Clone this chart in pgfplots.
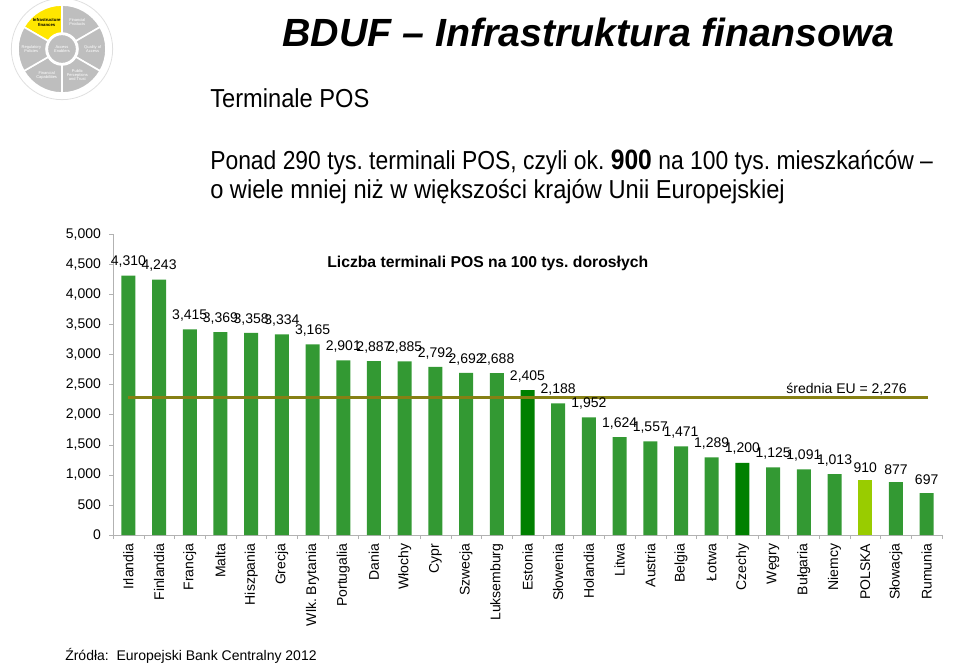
\documentclass[border=0pt]{standalone}
\usepackage{fontspec}
\setmainfont{Liberation Sans}
\newfontfamily\narrowfont[FakeStretch=0.91]{Liberation Sans}
\newfontfamily\narrowfontB[FakeStretch=0.88]{Liberation Sans}
\usepackage{pgfplots}
\pgfplotsset{compat=1.18}
\definecolor{barG}{RGB}{51,153,51}
\definecolor{barD}{RGB}{0,128,0}
\definecolor{barL}{RGB}{153,204,0}
\definecolor{avgC}{RGB}{134,128,20}
\definecolor{yel}{RGB}{255,230,0}
\definecolor{logoG}{RGB}{190,190,190}
\newcommand{\fs}[1]{\fontsize{#1}{#1}\selectfont}
\pgfplotsset{
  mybar/.style={ybar, bar width=10.5pt, bar shift=0pt, draw=none,
    nodes near coords,
    every node near coord/.append style={font=\fs{10.5pt}, text=black, yshift=2.5pt}},
}
\frenchspacing
\begin{document}
\frenchspacing
\begin{tikzpicture}[x=0.75pt, y=-0.75pt]
\path[use as bounding box] (0,0) rectangle (960,664);
% logo
\begin{scope}[shift={(62,49)}, x=1pt, y=1pt]
  \draw[gray!25, line width=0.6pt] (0,0) circle[radius=38pt];
  \foreach \a/\c in {90/yel,30/logoG,-30/logoG,-90/logoG,-150/logoG,150/logoG}{
    \pgfmathsetmacro{\b}{\a+60}
    \filldraw[fill=\c, draw=white, line width=1.2pt]
      (\a:12pt) -- (\a:33pt) arc[start angle=\a, end angle=\b, radius=33pt]
      -- (\b:12pt) arc[start angle=\b, end angle=\a, radius=12pt] -- cycle;
  }
  \filldraw[fill=logoG, draw=white, line width=1.2pt] (0,0) circle[radius=11pt];
  \node[font=\bfseries\fs{3.2pt}, align=center] at (120:23pt) {Infrastructure\\finances};
  \node[font=\fs{3pt}, text=white, align=center] at (60:23pt) {Financial\\Products};
  \node[font=\fs{3pt}, text=white, align=center] at (0:23pt) {Quality of\\Access};
  \node[font=\fs{3pt}, text=white, align=center] at (-60:23pt) {Public\\Perceptions\\and Trust};
  \node[font=\fs{3pt}, text=white, align=center] at (-120:23pt) {Financial\\Capabilities};
  \node[font=\fs{3pt}, text=white, align=center] at (180:23pt) {Regulatory\\Policies};
  \node[font=\fs{3pt}, text=white, align=center] at (0,0) {Access\\Enablers};
\end{scope}
% titles
\node[anchor=base west, inner sep=0pt, font=\bfseries\itshape\fs{29.5pt}] at (282,46) {BDUF – Infrastruktura finansowa};
\node[anchor=base west, inner sep=0pt, font=\narrowfont\fs{19.5pt}] at (210,107) {Terminale POS};
\node[anchor=base west, inner sep=0pt, font=\narrowfontB\fs{19.5pt}] at (210,169) {Ponad 290 tys. terminali POS, czyli ok. {\fs{21pt}\bfseries 900} na 100 tys. mieszkańców –};
\node[anchor=base west, inner sep=0pt, font=\narrowfont\fs{19.5pt}] at (210,198) {o wiele mniej niż w większości krajów Unii Europejskiej};
\node[anchor=base west, inner sep=0pt, font=\bfseries\fs{11.8pt}] at (327,267) {Liczba terminali POS na 100 tys. dorosłych};
\node[anchor=base east, inner sep=0pt, font=\fs{10.5pt}] at (907,393) {średnia EU = 2,276};
\node[anchor=base west, inner sep=0pt, font=\fs{10.5pt}] at (65,660) {Źródła:\ \ Europejski Bank Centralny 2012};
\begin{axis}[
  at={(84.75pt,-401.25pt)}, anchor=south west,
  scale only axis, width=621.75pt, height=225.75pt,
  xmin=-0.5, xmax=26.5, ymin=0, ymax=5000,
  axis x line*=bottom, axis y line*=left,
  axis line style={draw=gray!60, -},
  /pgf/number format/assume math mode=true,
  /pgf/number format/1000 sep={,},
  ytick={0,500,...,5000},
  xtick={0,...,26},
  xticklabels={Irlandia,Finlandia,Francja,Malta,Hiszpania,Grecja,Wlk. Brytania,Portugalia,Dania,Włochy,Cypr,Szwecja,Luksemburg,Estonia,Słowenia,Holandia,Litwa,Austria,Belgia,Łotwa,Czechy,Węgry,Bułgaria,Niemcy,POLSKA,Słowacja,Rumunia},
  minor xtick={-0.5,0.5,...,26.5},
  tick align=outside, major tick length=3pt, minor tick length=3pt,
  major x tick style={draw=none},
  minor x tick style={draw=gray!60},
  y tick style={draw=gray!60},
  tick label style={font=\fs{10.5pt}},
  yticklabel style={xshift=-2.5pt},
  xticklabel style={rotate=90, anchor=east, xshift=0pt},
]
\addplot[mybar, fill=barG] coordinates {(0,4310) (1,4243) (2,3415) (3,3369) (4,3358) (5,3334) (6,3165) (7,2901) (8,2887) (9,2885) (10,2792) (11,2692) (12,2688) (14,2188) (15,1952) (16,1624) (17,1557) (18,1471) (19,1289) (21,1125) (22,1091) (23,1013) (25,877) (26,697)};
\addplot[mybar, fill=barD] coordinates {(13,2405) (20,1200)};
\addplot[mybar, fill=barL] coordinates {(24,910)};
\addplot[sharp plot, no marks, draw=avgC, line width=2.25pt] coordinates {(0,2276) (26.05,2276)};
\end{axis}
\end{tikzpicture}
\end{document}
